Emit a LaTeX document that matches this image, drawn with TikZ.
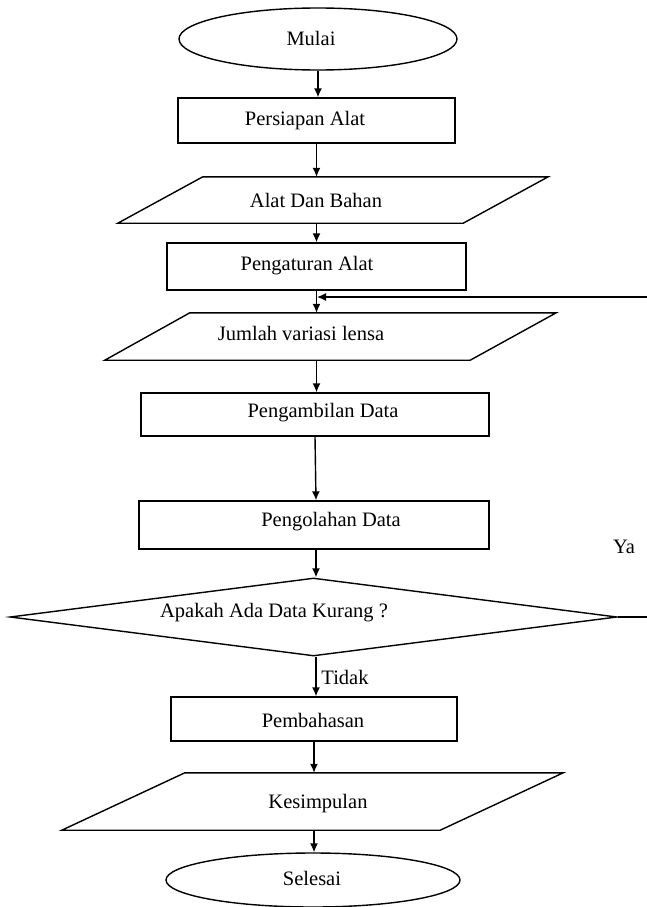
\documentclass[tikz,border=0pt]{standalone}
\usepackage{fontspec}
\setmainfont{Liberation Serif}
\usetikzlibrary{shapes.geometric,arrows.meta,calc}
\begin{document}
\begin{tikzpicture}[x=1pt,y=-1pt,
  every node/.style={font=\fontsize{20.5}{24}\selectfont, inner sep=0pt},
  line/.style={line width=1.4pt, draw=black},
  arr/.style={line width=1.4pt, draw=black, -{Latex[length=9pt,width=8pt]}},
  oval/.style={ellipse, draw, line width=1.4pt},
  box/.style={rectangle, draw, line width=1.4pt},
  pbox/.style={rectangle, draw=none},
  txt/.style={inner sep=0pt}
]
\useasboundingbox (0,0) rectangle (647,907);
% terminal start
\node[oval, minimum width=278pt, minimum height=62pt] (mulai) at (318,39) {};
\node[txt] (tmulai) at (311,38) {Mulai};
% Persiapan Alat
\node[box, minimum width=277pt, minimum height=45pt] (pa) at (316.5,120.5) {};
\node[txt] (tpa) at (305,121) {Persiapan Alat};
% Alat Dan Bahan (parallelogram)
\node[pbox, minimum width=430pt, minimum height=46pt] (adb) at (333,200) {};
\draw[line] ($(adb.north west)+(85,0)$) -- (adb.north east) -- ($(adb.south east)+(-85,0)$) -- (adb.south west) -- cycle;
\node[txt] (tadb) at (316,200) {Alat Dan Bahan};
% Pengaturan Alat
\node[box, minimum width=299pt, minimum height=47pt] (pga) at (316.5,266.5) {};
\node[txt] (tpga) at (307,266) {Pengaturan Alat};
% Jumlah variasi lensa
\node[pbox, minimum width=451pt, minimum height=47pt] (jvl) at (330.5,336.5) {};
\draw[line] ($(jvl.north west)+(85,0)$) -- (jvl.north east) -- ($(jvl.south east)+(-86,0)$) -- (jvl.south west) -- cycle;
\node[txt] (tjvl) at (301,333) {Jumlah variasi lensa};
% Pengambilan Data
\node[box, minimum width=348pt, minimum height=43pt] (pgd) at (315,414.5) {};
\node[txt] (tpgd) at (323,413) {Pengambilan Data};
% Pengolahan Data
\node[box, minimum width=350pt, minimum height=48pt] (pod) at (314,525) {};
\node[txt] (tpod) at (331,522) {Pengolahan Data};
% Decision
\node[diamond, draw, line width=1.4pt, aspect=7.8, minimum width=607pt, minimum height=78pt, inner sep=0pt] (dia) at (313.5,617) {};
\node[txt] (tdia) at (274,613) {Apakah Ada Data Kurang ?};
% Pembahasan
\node[box, minimum width=286pt, minimum height=44pt] (pmb) at (314,719) {};
\node[txt] (tpmb) at (313,720) {Pembahasan};
% Kesimpulan
\node[pbox, minimum width=501pt, minimum height=57pt] (ksp) at (312.5,801.5) {};
\draw[line] ($(ksp.north west)+(123,0)$) -- (ksp.north east) -- ($(ksp.south east)+(-123,0)$) -- (ksp.south west) -- cycle;
\node[txt] (tksp) at (318,804) {Kesimpulan};
% Selesai
\node[oval, minimum width=294pt, minimum height=54pt] (sel) at (313,880) {};
\node[txt] (tsel) at (312,878) {Selesai};
% labels
\node[txt] (ya) at (624,547) {Ya};
\node[txt] (tidak) at (345,677) {Tidak};
% connectors
\draw[arr] (mulai.south) -- (mulai.south |- pa.north);
\draw[arr] (pa.south) -- (pa.south |- adb.north);
\draw[arr] (pa.south |- adb.south) -- (pa.south |- pga.north);
\draw[arr] (pga.south) -- (pga.south |- jvl.north);
\draw[arr] (pga.south |- jvl.south) -- (pga.south |- pgd.north);
\draw[arr] (pgd.south) -- ($(pod.north)+(2,0)$);
\coordinate (pods) at ($(pod.south)+(2,0)$);
\draw[arr] (pods) -- (pods |- dia.north);
\coordinate (dias) at ($(dia.south)+(2.5,0)$);
\draw[arr] (dias) -- (dias |- pmb.north);
\draw[arr] (pmb.south) -- (pmb.south |- ksp.north);
\draw[arr] (pmb.south |- ksp.south) -- (pmb.south |- sel.north);
% feedback loop
\coordinate (c1) at (648.5,617);
\coordinate (c2) at (648.5,297);
\coordinate (fb) at (317,297);
\draw[arr] (dia.east) -- (c1) -- (c2) -- (fb);
\end{tikzpicture}
\end{document}
